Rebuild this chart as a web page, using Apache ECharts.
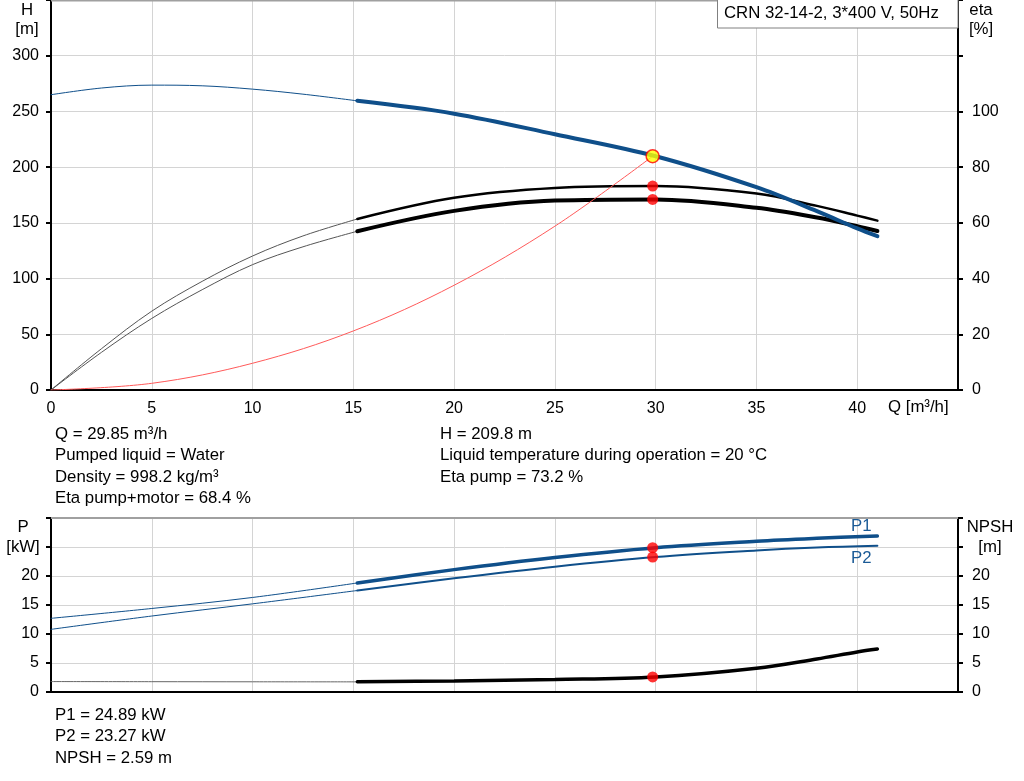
<!DOCTYPE html>
<html>
<head>
<meta charset="utf-8">
<script src="https://cdn.jsdelivr.net/npm/echarts@6/dist/echarts.min.js"></script>
<style>
html,body{margin:0;padding:0;background:#fff;}
#c{width:1024px;height:781px;}
</style>
</head>
<body>
<div id="c"></div>
<script>
// ---- data ----
const qTicks = [0, 5, 10, 15, 20, 25, 30, 35, 40];

const hThinQ = [0, 2.5, 5, 7.5, 10, 12.5, 15.2];
const hThinV = [265, 271, 273.6, 273, 270, 265.5, 259.5];
const hThickQ = [15.2, 20, 25, 30, 35, 38, 40, 41];
const hThickV = [259.5, 248, 229.5, 209.8, 182, 160.5, 145, 138];

const etaPThinQ = [0, 2.5, 5, 7.5, 10, 12.5, 15.2];
const etaPThinV = [0, 14.8, 28.3, 39, 48.1, 55.3, 61.4];
const etaPThickQ = [15.2, 20, 25, 30, 35, 38, 40, 41];
const etaPThickV = [61.4, 69.0, 72.5, 73.2, 70.5, 66.1, 62.6, 60.8];

const etaTThinQ = [0, 2.5, 5, 7.5, 10, 12.5, 15.2];
const etaTThinV = [0, 13.5, 25.7, 36, 45.0, 51.4, 57.0];
const etaTThickQ = [15.2, 20, 25, 30, 35, 38, 40, 41];
const etaTThickV = [57.0, 64.3, 68.0, 68.4, 65.4, 61.9, 58.8, 57.1];

const sysQ = [0, 5, 10, 15, 20, 25, 29.85];
const sysV = [0, 6, 24, 53, 94, 147, 209.8];

const p1ThinQ = [0, 5, 10, 15.2];
const p1ThinV = [12.7, 14.4, 16.3, 18.8];
const p1ThickQ = [15.2, 20, 25, 30, 35, 38, 41];
const p1ThickV = [18.8, 21.1, 23.2, 24.89, 26.0, 26.5, 26.9];

const p2ThinQ = [0, 5, 10, 15.2];
const p2ThinV = [10.8, 13.1, 15.2, 17.5];
const p2ThickQ = [15.2, 20, 25, 30, 35, 38, 41];
const p2ThickV = [17.5, 19.6, 21.6, 23.27, 24.4, 24.9, 25.2];

const npshThinQ = [0, 5, 10, 15.2];
const npshThinV = [1.8, 1.78, 1.76, 1.75];
const npshThickQ = [15.2, 20, 25, 30, 35, 38, 40, 41];
const npshThickV = [1.75, 1.9, 2.15, 2.59, 4.1, 5.7, 6.9, 7.4];

const opQ = 29.85;
const opH = 209.8;
const opEtaPump = 73.2;
const opEtaTotal = 68.4;
const opP1 = 24.89;
const opP2 = 23.27;
const opNpsh = 2.59;

const infoLeft = ['Q = 29.85 m³/h', 'Pumped liquid = Water', 'Density = 998.2 kg/m³', 'Eta pump+motor = 68.4 %'];
const infoRight = ['H = 209.8 m', 'Liquid temperature during operation = 20 °C', 'Eta pump = 73.2 %'];
const infoBottom = ['P1 = 24.89 kW', 'P2 = 23.27 kW', 'NPSH = 2.59 m'];
const title = 'CRN 32-14-2, 3*400 V, 50Hz';

// ---- chart ----
const FONT = '"Liberation Sans", Arial, sans-serif';
const TF = '16.8px ' + FONT;
const BLUE = '#0f4f8a';
const zip = (a, b) => a.map((x, i) => [x, b[i]]);

function xAx(gi, showLabels) {
  return {
    type: 'value', gridIndex: gi, min: 0, max: 45, interval: 5,
    axisLine: { show: true, onZero: false, lineStyle: { color: '#000', width: 2 } },
    axisTick: { show: false },
    axisLabel: {
      show: showLabels, color: '#000', fontSize: 16, fontFamily: FONT, margin: 11,
      formatter: v => (v <= 40 ? String(v) : '')
    },
    splitLine: { show: true, lineStyle: { color: '#d4d4d4', width: 1 } }
  };
}
function yAx(gi, pos, max, interval, maxLabel, showSplit) {
  return {
    type: 'value', gridIndex: gi, position: pos, min: 0, max: max, interval: interval,
    axisLine: { show: true, onZero: false, lineStyle: { color: '#000', width: 2 } },
    axisTick: { show: true, inside: false, length: 5, lineStyle: { color: '#000', width: 2 } },
    axisLabel: {
      color: '#000', fontSize: 16, fontFamily: FONT, margin: pos === 'left' ? 12 : 14,
      formatter: v => (v <= maxLabel ? String(v) : '')
    },
    splitLine: { show: showSplit, lineStyle: { color: '#d4d4d4', width: 1 } }
  };
}
function line(xi, yi, q, v, color, width, z) {
  return {
    type: 'line', xAxisIndex: xi, yAxisIndex: yi, data: zip(q, v),
    smooth: 0.35, showSymbol: false, symbol: 'none', z: z || 2,
    lineStyle: { color: color, width: width, cap: 'round' }, silent: true
  };
}
function dots(xi, yi, pts, z) {
  return {
    type: 'scatter', xAxisIndex: xi, yAxisIndex: yi, data: pts, symbol: 'circle',
    symbolSize: 11, z: z || 10, itemStyle: { color: '#ff0000' }, silent: true
  };
}

const textEls = [];
// top borders (drawn first, below texts)
textEls.push({ type: 'line', z: 1, shape: { x1: 51, y1: 0.5, x2: 958, y2: 0.5 }, style: { stroke: '#a0a0a0', lineWidth: 2 } });
textEls.push({ type: 'line', z: 1, shape: { x1: 51, y1: 518, x2: 958, y2: 518 }, style: { stroke: '#a0a0a0', lineWidth: 2 } });

infoLeft.forEach((t, i) => textEls.push({ type: 'text', left: 55, top: 426 + i * 21.3, style: { text: t, font: TF, fill: '#000' } }));
infoRight.forEach((t, i) => textEls.push({ type: 'text', left: 440, top: 426 + i * 21.3, style: { text: t, font: TF, fill: '#000' } }));
infoBottom.forEach((t, i) => textEls.push({ type: 'text', left: 55, top: 707 + i * 21.3, style: { text: t, font: TF, fill: '#000' } }));

const axisTitles = [
  { x: 27, y: 2, t: 'H' }, { x: 27, y: 21, t: '[m]' },
  { x: 981, y: 2, t: 'eta' }, { x: 981, y: 21, t: '[%]' },
  { x: 23, y: 519, t: 'P' }, { x: 23, y: 539, t: '[kW]' },
  { x: 990, y: 519, t: 'NPSH' }, { x: 990, y: 539, t: '[m]' }
];
axisTitles.forEach(a => textEls.push({ type: 'text', x: a.x, y: a.y, style: { text: a.t, font: TF, fill: '#000', align: 'center' } }));
textEls.push({ type: 'text', x: 888, y: 399, style: { text: 'Q [m³/h]', font: TF, fill: '#000' } });
textEls.push({ type: 'text', x: 851, y: 518, z: 60, style: { text: 'P1', font: TF, fill: '#1a5a96' } });
textEls.push({ type: 'text', x: 851, y: 550, z: 60, style: { text: 'P2', font: TF, fill: '#1a5a96' } });
// title box
textEls.push({ type: 'rect', shape: { x: 717.5, y: -1, width: 240.5, height: 29 }, style: { fill: '#fff', stroke: '#808080', lineWidth: 1 }, z: 50 });
textEls.push({ type: 'text', x: 724, y: 5, z: 51, style: { text: title, font: TF, fill: '#000' } });

const option = {
  animation: false,
  backgroundColor: '#fff',
  grid: [
    { left: 51, top: 0, width: 907, height: 390, containLabel: false },
    { left: 51, top: 518, width: 907, height: 174, containLabel: false }
  ],
  xAxis: [xAx(0, true), xAx(1, false)],
  yAxis: [
    yAx(0, 'left', 350, 50, 300, true),
    yAx(0, 'right', 140, 20, 100, false),
    yAx(1, 'left', 30, 5, 20, true),
    yAx(1, 'right', 30, 5, 20, false)
  ],
  graphic: textEls,
  series: [
    line(0, 1, etaPThinQ, etaPThinV, '#555', 1, 3),
    line(0, 1, etaPThickQ, etaPThickV, '#000', 2.5, 3),
    line(0, 1, etaTThinQ, etaTThinV, '#555', 1, 3),
    line(0, 1, etaTThickQ, etaTThickV, '#000', 4, 3),
    line(0, 0, sysQ, sysV, '#ff5a5a', 1, 4),
    line(0, 0, hThinQ, hThinV, BLUE, 1, 5),
    line(0, 0, hThickQ, hThickV, BLUE, 4, 5),
    dots(0, 1, [[opQ, opEtaPump], [opQ, opEtaTotal]]),
    {
      type: 'scatter', xAxisIndex: 0, yAxisIndex: 0, data: [[opQ, opH]], symbol: 'circle',
      symbolSize: 13, z: 11, silent: true,
      itemStyle: { color: '#ffff00', borderColor: '#ff0000', borderWidth: 1.5 }
    },
    line(1, 2, p1ThinQ, p1ThinV, BLUE, 1, 3),
    line(1, 2, p1ThickQ, p1ThickV, BLUE, 3.5, 3),
    line(1, 2, p2ThinQ, p2ThinV, BLUE, 1, 3),
    line(1, 2, p2ThickQ, p2ThickV, BLUE, 2, 3),
    line(1, 3, npshThinQ, npshThinV, '#666', 1, 3),
    line(1, 3, npshThickQ, npshThickV, '#000', 3.5, 3),
    dots(1, 2, [[opQ, opP1], [opQ, opP2]]),
    dots(1, 3, [[opQ, opNpsh]])
  ]
};

const chart = echarts.init(document.getElementById('c'), null, { renderer: 'canvas' });
chart.setOption(option);
</script>
</body>
</html>
